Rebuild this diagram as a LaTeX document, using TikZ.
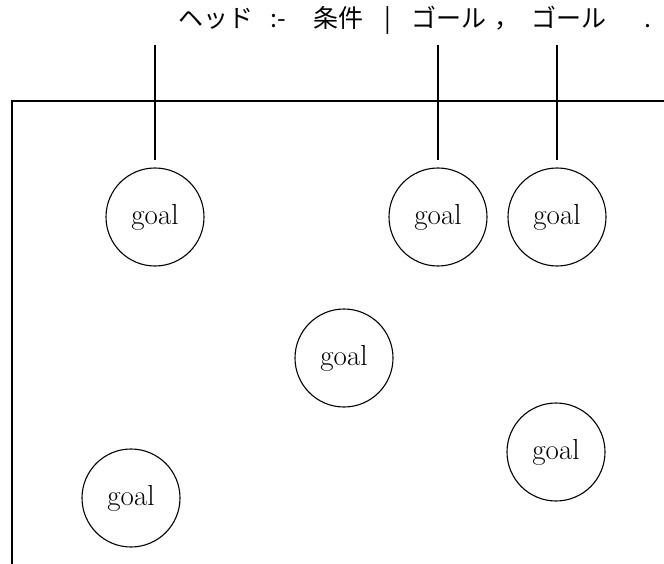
\documentclass[tikz,border=0pt]{standalone}
\usepackage{fontspec}
\newfontfamily\jpfont{Noto Sans CJK JP}
\begin{document}
\begin{tikzpicture}[x=1pt,y=-1pt,
  goalnode/.style={draw,circle,line width=1.1pt,minimum size=98pt,inner sep=0pt,
    font=\fontsize{29}{32}\selectfont},
  link/.style={line width=1.1pt,shorten >=7pt},
  frame/.style={line width=1.2pt}]
\useasboundingbox (0,0) rectangle (664,564);
% header text
\node[anchor=base west,inner sep=0pt,font=\jpfont\fontsize{25}{28}\selectfont] (head) at (178,28)
 {\makebox[92pt][l]{ヘッド}\makebox[43pt][l]{:-}\makebox[71pt][l]{条件}\makebox[27pt][l]{|}\makebox[83pt][l]{ゴール}\makebox[37pt][l]{，}\makebox[114pt][l]{ゴール}\makebox[6pt][c]{.}};
% frame
\coordinate (fr) at (664,101);
\coordinate (ftl) at (12,101);
\coordinate (fbl) at (12,564);
\draw[frame] (fr) -- (ftl) -- (fbl);
% goals
\node[goalnode] (g1) at (155,217) {goal};
\node[goalnode] (g2) at (438,217) {goal};
\node[goalnode] (g3) at (557,217) {goal};
\node[goalnode] (g4) at (344,358) {goal};
\node[goalnode] (g5) at (556,452) {goal};
\node[goalnode] (g6) at (131,498) {goal};
% connectors
\coordinate (t1) at (155,45);
\coordinate (t2) at (438,45);
\coordinate (t3) at (557,45);
\draw[link] (t1) -- (g1);
\draw[link] (t2) -- (g2);
\draw[link] (t3) -- (g3);
\end{tikzpicture}
\end{document}
